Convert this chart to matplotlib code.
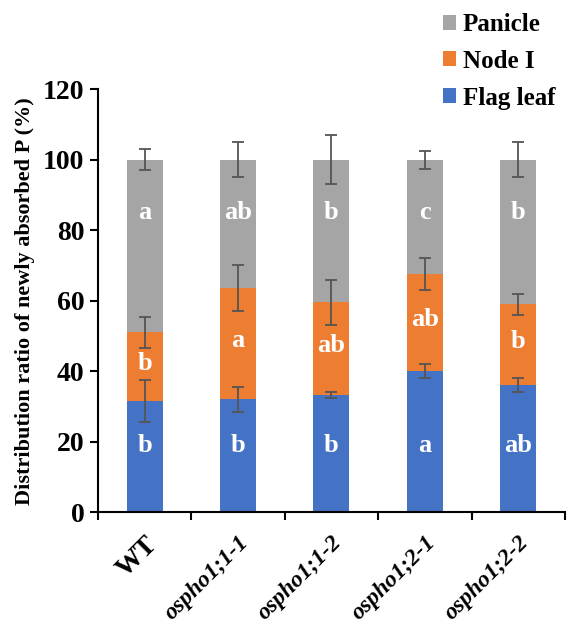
import numpy as np
import matplotlib.pyplot as plt

lines = ['WT', 'ospho1;1-1', 'ospho1;1-2', 'ospho1;2-1', 'ospho1;2-2']
flag_leaf = [31.5, 32.0, 33.2, 40.0, 36.0]
flag_err = [6.0, 3.5, 0.8, 2.0, 2.0]
node_top = [51.0, 63.5, 59.5, 67.5, 59.0]
node_err = [4.5, 6.5, 6.5, 4.5, 3.0]
panicle_err = [3.0, 5.0, 7.0, 2.5, 5.0]
flag_letters = ['b', 'b', 'b', 'a', 'ab']
node_letters = ['b', 'a', 'ab', 'ab', 'b']
panicle_letters = ['a', 'ab', 'b', 'c', 'b']

flag_leaf = np.array(flag_leaf)
node = np.array(node_top) - flag_leaf
panicle = 100 - np.array(node_top)

c_flag = '#4472C4'
c_node = '#ED7D31'
c_pan = '#A5A5A5'
ecol = '#555555'

plt.rcParams['font.family'] = ['Liberation Serif', 'DejaVu Serif']
plt.rcParams['font.weight'] = 'bold'

fig = plt.figure(figsize=(5.72, 6.33), dpi=100)
ax = fig.add_axes([0.171, 0.191, 0.817, 0.668])

x = np.arange(len(lines))
w = 0.385
b1 = ax.bar(x, flag_leaf, w, color=c_flag, label='Flag leaf')
b2 = ax.bar(x, node, w, bottom=flag_leaf, color=c_node, label='Node I')
b3 = ax.bar(x, panicle, w, bottom=node_top, color=c_pan, label='Panicle')

ekw = dict(fmt='none', ecolor=ecol, elinewidth=1.3, capsize=4, capthick=1.3)
ax.errorbar(x, flag_leaf, yerr=flag_err, **ekw)
ax.errorbar(x, node_top, yerr=node_err, **ekw)
ax.errorbar(x, [100] * len(x), yerr=panicle_err, **ekw)

for i in x:
    ax.text(i, 19, flag_letters[i], color='white', fontsize=19, fontweight='bold',
            ha='center', va='center')
    ax.text(i, (flag_leaf[i] + node_top[i]) / 2 + 1, node_letters[i], color='white',
            fontsize=19, fontweight='bold', ha='center', va='center')
    ax.text(i, 85, panicle_letters[i], color='white', fontsize=19, fontweight='bold',
            ha='center', va='center')

ax.set_xlim(-0.5, 4.5)
ax.set_ylim(0, 120)
ax.set_yticks(range(0, 121, 20))
ax.tick_params(axis='y', labelsize=20, length=6, width=1.5, direction='out')
for t in ax.get_yticklabels():
    t.set_fontweight('bold')

ax.set_xticks(np.arange(-0.5, 4.6, 1))
ax.set_xticklabels([])
ax.tick_params(axis='x', length=6, width=1.5, direction='out')
ax.set_xticks(x, minor=True)
ax.set_xticklabels(lines, minor=True, rotation=45, ha='right', rotation_mode='anchor',
                   fontsize=17, fontweight='bold')
ax.tick_params(axis='x', which='minor', length=0, pad=14)
for t in ax.get_xticklabels(minor=True):
    if t.get_text() != 'WT':
        t.set_fontstyle('italic')
    else:
        t.set_fontsize(20)

for s in ['top', 'right']:
    ax.spines[s].set_visible(False)
for s in ['left', 'bottom']:
    ax.spines[s].set_linewidth(1.5)

ax.set_ylabel('Distribution ratio of newly absorbed P (%)', fontsize=16, fontweight='bold',
              labelpad=6)

fig.legend(handles=[b3, b2, b1], loc='upper right', bbox_to_anchor=(1.01, 1.015),
           frameon=False, handlelength=0.55, handleheight=0.55,
           handletextpad=0.25, labelspacing=0.55, prop={'weight': 'bold', 'size': 18})

fig.savefig('out.png', dpi=100)
